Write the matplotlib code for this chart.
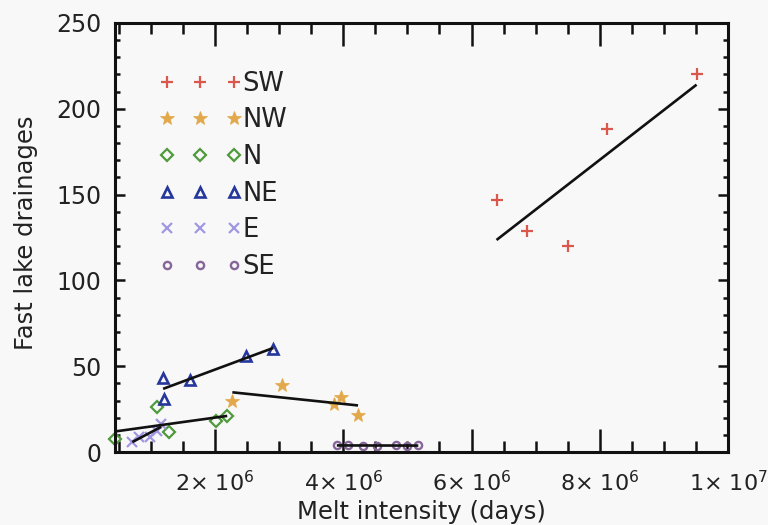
import numpy as np
import matplotlib
matplotlib.use("Agg")
import matplotlib.pyplot as plt
from matplotlib.ticker import MultipleLocator, FixedLocator

plt.rcParams['font.family'] = ['DejaVu Sans']
plt.rcParams['mathtext.fontset'] = 'dejavusans'

# Melt intensity (days) vs. number of fast lake drainages, per region
regions = ['SW', 'NW', 'N', 'NE', 'E', 'SE']

sw_x = [6.39e6, 6.86e6, 7.50e6, 8.11e6, 9.51e6]
sw_y = [147, 129, 120, 188, 220]

nw_x = [2.27e6, 3.04e6, 3.85e6, 3.96e6, 4.23e6]
nw_y = [30, 39, 28, 32, 21.5]

n_x = [0.44e6, 1.09e6, 1.28e6, 2.02e6, 2.19e6]
n_y = [7.6, 26.3, 11.8, 18.3, 20.8]

ne_x = [1.19e6, 1.21e6, 1.61e6, 2.49e6, 2.91e6]
ne_y = [43, 31, 42, 56, 60]

e_x = [0.71e6, 0.82e6, 0.99e6, 1.09e6, 1.16e6]
e_y = [6, 9, 9, 12.5, 16.5]

se_x = [3.90e6, 4.08e6, 4.30e6, 4.52e6, 4.83e6, 5.00e6, 5.17e6]
se_y = [4, 4, 3.5, 3.5, 4, 3.5, 4]

x_ticks = [2e6, 4e6, 6e6, 8e6, 1e7]
x_tick_labels = ['2\u00d7 10$^{\\mathregular{6}}$', '4\u00d7 10$^{\\mathregular{6}}$',
                 '6\u00d7 10$^{\\mathregular{6}}$', '8\u00d7 10$^{\\mathregular{6}}$',
                 '1\u00d7 10$^{\\mathregular{7}}$']
y_ticks = [0, 50, 100, 150, 200, 250]

series = [
    (sw_x, sw_y, dict(marker='+', color='#d9584b', ms=9, mew=1.6, mfc='none')),
    (nw_x, nw_y, dict(marker='*', color='#e2a84a', ms=10, mew=0.5, mfc='#e2a84a')),
    (n_x, n_y, dict(marker='D', color='#4f9a3c', ms=6.3, mew=1.6, mfc='none')),
    (ne_x, ne_y, dict(marker='^', color='#26379c', ms=7.5, mew=1.9, mfc='none')),
    (e_x, e_y, dict(marker='x', color='#a197e2', ms=7.5, mew=1.6, mfc='none')),
    (se_x, se_y, dict(marker='o', color='#86679a', ms=5.2, mew=1.7, mfc='none')),
]

fig = plt.figure(figsize=(7.68, 5.25), dpi=100, facecolor='#f8f8f8')
ax = fig.add_axes([115 / 768, 1 - 452 / 525, 613 / 768, 429 / 525])
ax.set_facecolor('#f8f8f8')

for name, (xs, ys, style) in zip(regions, series):
    ax.plot(xs, ys, ls='none', label=name, clip_on=False, zorder=2, **style)
    # least-squares trend over the region's range
    k, b = np.polyfit(xs, ys, 1)
    xr = np.array([min(xs), max(xs)])
    ax.plot(xr, k * xr + b, color='#111111', lw=1.9, zorder=3, solid_capstyle='butt')

xmin = min(min(s[0]) for s in series)
ax.set_xlim(xmin, 1e7)
ax.set_ylim(0, 250)

ax.xaxis.set_major_locator(FixedLocator(x_ticks))
ax.set_xticklabels(x_tick_labels)
ax.xaxis.set_minor_locator(MultipleLocator(5e5))
ax.yaxis.set_major_locator(FixedLocator(y_ticks))
ax.yaxis.set_minor_locator(MultipleLocator(10))

txt = '#222222'
for sp in ax.spines.values():
    sp.set_linewidth(2.2)
    sp.set_color('#111111')
ax.tick_params(axis='both', which='both', direction='in', top=True, right=True,
               color='#111111', labelcolor=txt, labelsize=17)
ax.tick_params(axis='x', which='major', length=16.5, width=1.8, pad=13,
               labelsize=16)
ax.tick_params(axis='x', which='minor', length=8, width=1.8)
ax.tick_params(axis='y', which='major', length=7.5, width=1.8, pad=10)
ax.tick_params(axis='y', which='minor', length=3.8, width=1.8)

ax.set_xlabel('Melt intensity (days)', fontsize=17.5, color=txt)
ax.set_ylabel('Fast lake drainages', fontsize=17.5, color=txt)
ax.xaxis.set_label_coords(0.5, -0.112)
ax.yaxis.set_label_coords(-0.125, 0.51)

leg = ax.legend(loc='upper left', bbox_to_anchor=(0.0718, 0.889), frameon=False,
                numpoints=3, fontsize=18.5, handlelength=3.2, handletextpad=0.03,
                labelspacing=0.415, borderpad=0, borderaxespad=0)
for t in leg.get_texts():
    t.set_color(txt)

fig.savefig('out.png', dpi=100, facecolor=fig.get_facecolor())
